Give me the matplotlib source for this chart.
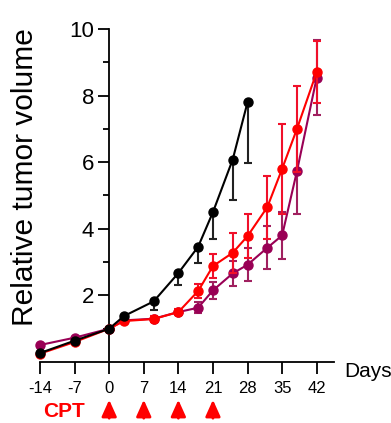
import matplotlib
matplotlib.use('Agg')
import matplotlib.pyplot as plt
import matplotlib.transforms as mtransforms

plt.rcParams['font.family'] = ['Liberation Sans', 'DejaVu Sans']

# data
days_ctrl = [-14, -7, 0, 3, 9, 14, 18, 21, 25, 28]
vol_ctrl = [0.27, 0.64, 1.0, 1.38, 1.82, 2.67, 3.46, 4.5, 6.08, 7.8]
err_ctrl = [0.0, 0.0, 0.0, 0.05, 0.25, 0.36, 0.49, 0.81, 1.22, 1.83]

days_cpt = [-14, -7, 0, 3, 9, 14, 18, 21, 25, 28, 32, 35, 38, 42]
vol_red = [0.25, 0.6, 1.0, 1.23, 1.29, 1.5, 2.13, 2.88, 3.28, 3.78, 4.65, 5.8, 7.0, 8.71]
err_red = [0.0, 0.0, 0.0, 0.05, 0.1, 0.08, 0.2, 0.36, 0.6, 0.66, 0.95, 1.35, 1.28, 0.93]
vol_pur = [0.51, 0.73, 1.0, 1.25, 1.3, 1.5, 1.63, 2.15, 2.66, 2.92, 3.43, 3.8, 5.73, 8.54]
err_pur = [0.0, 0.0, 0.0, 0.04, 0.08, 0.06, 0.17, 0.25, 0.38, 0.5, 0.64, 0.71, 1.29, 1.12]

cpt_days = [0, 7, 14, 21]
xticks = [-14, -7, 0, 7, 14, 21, 28, 35, 42]

fig = plt.figure(figsize=(3.91, 4.23), dpi=100)
ax = fig.add_axes([40 / 391, 61 / 423, 294 / 391, 333 / 423])

common = dict(marker='o', markersize=6.5, linewidth=1.5, capsize=3,
              elinewidth=1.5, capthick=1.5, clip_on=False)
ax.errorbar(days_cpt, vol_pur, yerr=err_pur, color='#990055', ecolor='#A0205F',
            zorder=3, **common)
ax.errorbar(days_cpt, vol_red, yerr=err_red, color='#FF0000', ecolor='#F0102A',
            zorder=4, **common)
# control: error bars only downward
ax.errorbar(days_ctrl, vol_ctrl, yerr=[err_ctrl, [0] * len(err_ctrl)], color='black',
            ecolor='#222222', zorder=5, **common)

ax.set_xlim(-14, 45.5)
ax.set_ylim(0, 10)
ax.spines['top'].set_visible(False)
ax.spines['right'].set_visible(False)
ax.spines['left'].set_position(('data', 0))
for s in ['left', 'bottom']:
    ax.spines[s].set_linewidth(1.3)

ax.set_xticks(xticks)
ax.set_xticklabels([str(d) for d in xticks], fontsize=12)
ax.set_yticks([2, 4, 6, 8, 10])
ax.set_yticks([1, 3, 5, 7, 9], minor=True)
ax.tick_params(axis='y', labelsize=16, length=8, width=1.3, pad=3)
ax.tick_params(axis='y', which='minor', length=4, width=1.3)
ax.tick_params(axis='x', length=8.5, width=1.3, pad=5)

fig.text(25 / 391, 1 - 177 / 423, 'Relative tumor volume', rotation=90,
         fontsize=21.5, ha='center', va='center')
fig.text(344 / 391, 1 - 371 / 423, 'Days', fontsize=15, ha='left', va='center')
fig.text(64 / 391, 1 - 411 / 423, 'CPT', fontsize=15, fontweight='bold',
         color='#FF0000', ha='center', va='center')

# treatment arrows below the axis
trans = mtransforms.blended_transform_factory(ax.transData, fig.transFigure)
for d in cpt_days:
    ax.annotate('', xy=(d, 1 - 397 / 423), xycoords=trans,
                xytext=(d, 1 - 421 / 423), textcoords=trans,
                arrowprops=dict(arrowstyle='-|>,head_length=1.0,head_width=0.45',
                                color='#FF0000', lw=2.0))

fig.savefig('out.png', dpi=100)
